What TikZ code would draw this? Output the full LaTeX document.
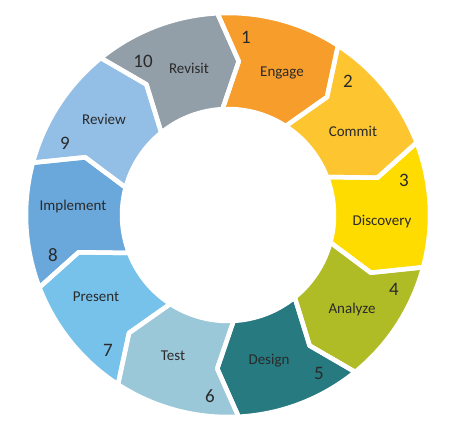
\documentclass[tikz,border=0pt]{standalone}
\usepackage{fontspec}
\setmainfont{Carlito}
\definecolor{c1}{HTML}{F79D2B}
\definecolor{c2}{HTML}{FDC530}
\definecolor{c3}{HTML}{FFDC00}
\definecolor{c4}{HTML}{B0BC26}
\definecolor{c5}{HTML}{267A80}
\definecolor{c6}{HTML}{9BC8D8}
\definecolor{c7}{HTML}{77C2EA}
\definecolor{c8}{HTML}{6AA8DB}
\definecolor{c9}{HTML}{93BFE6}
\definecolor{c10}{HTML}{939FA8}
\definecolor{txt}{HTML}{2A2A2A}
\begin{document}
\begin{tikzpicture}[x=1pt,y=1pt,
  gap/.style={draw=white,line width=4.5pt,line join=round},
  lab/.style={font=\fontsize{15}{17}\selectfont,text=txt,inner sep=0pt},
  num/.style={font=\fontsize{19}{21}\selectfont,text=txt,inner sep=0pt}]
\useasboundingbox (0,0) rectangle (457,-430);
\begin{scope}[shift={(228,-215)}]
\foreach \c [count=\k from 0] in {c1,c2,c3,c4,c5,c6,c7,c8,c9,c10}{
  \pgfmathsetmacro\a{93-36*\k}
  \pgfmathsetmacro\b{\a-36}
  \pgfmathsetmacro\ta{\a-7}
  \pgfmathsetmacro\tb{\b-7}
  \fill[\c] (\a:202pt) arc[start angle=\a,end angle=\b,radius=202pt]
    -- (\tb:154pt) -- (\b:106pt) arc[start angle=\b,end angle=\a,radius=106pt]
    -- (\ta:154pt) -- cycle;
}
\foreach \k in {0,...,9}{
  \pgfmathsetmacro\a{93-36*\k}
  \pgfmathsetmacro\b{\a-36}
  \pgfmathsetmacro\ta{\a-7}
  \pgfmathsetmacro\tb{\b-7}
  \draw[gap] (\a:202pt) arc[start angle=\a,end angle=\b,radius=202pt]
    -- (\tb:154pt) -- (\b:106pt) arc[start angle=\b,end angle=\a,radius=106pt]
    -- (\ta:154pt) -- cycle;
}
\end{scope}
\node[lab] (l1) at (282,-73) {Engage};
\node[num] (n1) at (246,-37) {1};
\node[lab] (l2) at (353,-131) {Commit};
\node[num] (n2) at (348,-81) {2};
\node[lab] (l3) at (382,-222) {Discovery};
\node[num] (n3) at (404,-180) {3};
\node[lab] (l4) at (352,-309) {Analyze};
\node[num] (n4) at (394,-289) {4};
\node[lab] (l5) at (269,-361) {Design};
\node[num] (n5) at (319,-373) {5};
\node[lab] (l6) at (173,-356) {Test};
\node[num] (n6) at (210,-396) {6};
\node[lab] (l7) at (96,-297) {Present};
\node[num] (n7) at (108,-350) {7};
\node[lab] (l8) at (73,-207) {Implement};
\node[num] (n8) at (53,-255) {8};
\node[lab] (l9) at (104,-119) {Review};
\node[num] (n9) at (65,-143) {9};
\node[lab] (l10) at (189,-68) {Revisit};
\node[num] (n10) at (143,-61) {10};
\end{tikzpicture}
\end{document}
